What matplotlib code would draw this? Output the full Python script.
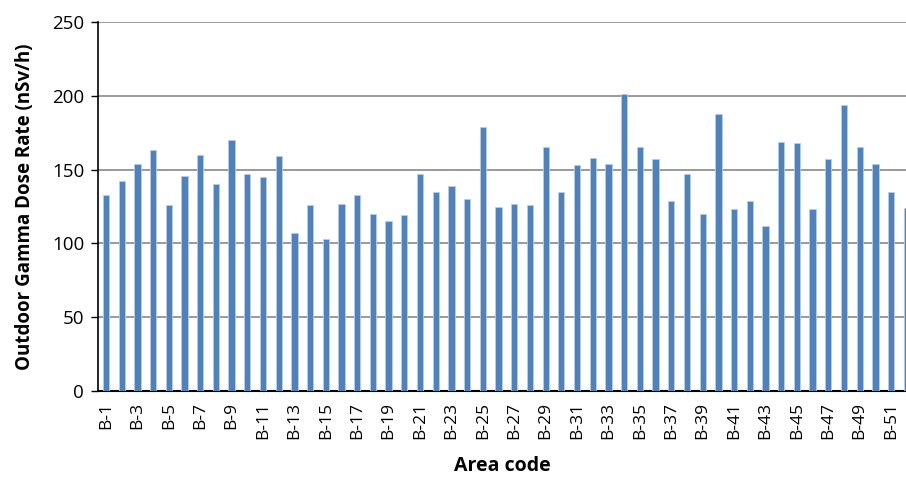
import numpy as np
import matplotlib.pyplot as plt

# Outdoor gamma dose rate per area
areas = ["B-%d" % i for i in range(1, 53)]
dose = [133, 142, 154, 163, 126, 146, 160, 140, 170, 147,
        145, 159, 107, 126, 103, 127, 133, 120, 115, 119,
        147, 135, 139, 130, 179, 125, 127, 126, 165, 135,
        153, 158, 154, 201, 165, 157, 129, 147, 120, 188,
        123, 129, 112, 169, 168, 123, 157, 194, 165, 154,
        135, 124]

plt.rcParams['font.family'] = ['Open Sans', 'DejaVu Sans']

fig = plt.figure(figsize=(9.06, 4.8), dpi=100)
ax = fig.add_axes([98/906, 89/480, 1 - 98/906, 369/480])

x = np.arange(len(areas))
ax.bar(x, dose, width=0.4, color="#4F81BD", edgecolor="#B9CDE5", linewidth=0.6, zorder=3)

ax.set_ylim(0, 250)
ax.set_yticks(range(0, 251, 50))
ax.set_xlim(-0.51, 50.95)
ax.set_xticks(x[::2])
ax.set_xticklabels(areas[::2], rotation=90, fontsize=12.5)
ax.tick_params(axis='x', length=0, pad=8)
ax.tick_params(axis='y', direction='out', length=5, width=1, labelsize=13.5, pad=5)

ax.grid(axis='y', color="#898989", linewidth=1.2, zorder=0)
for s in ['top', 'right']:
    ax.spines[s].set_visible(False)
ax.spines['left'].set_linewidth(1.2)
ax.spines['bottom'].set_linewidth(1.5)

ax.set_ylabel("Outdoor Gamma Dose Rate (nSv/h)", fontsize=13.5, fontweight='bold', labelpad=12)
ax.set_xlabel("Area code", fontsize=14, fontweight='bold', labelpad=12)

fig.savefig("out.png", dpi=100)
